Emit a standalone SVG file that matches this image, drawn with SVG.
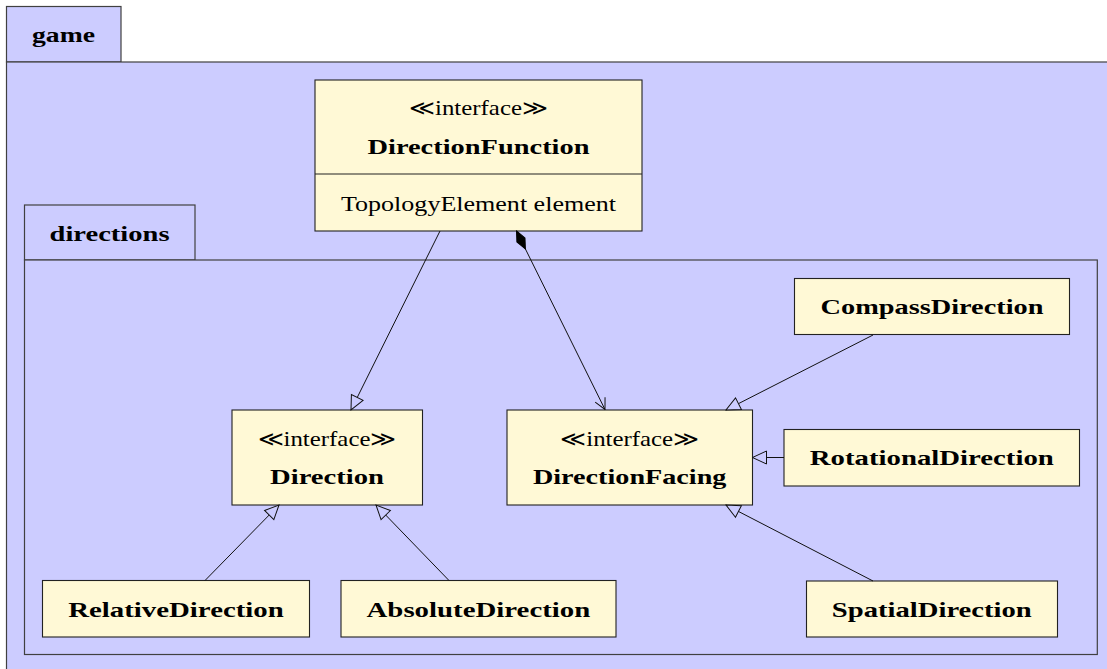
<svg xmlns="http://www.w3.org/2000/svg" width="1107" height="669" viewBox="0 0 1107 669">
<style>
.pkg{fill:#ccccff;stroke:#404040;stroke-width:1.2}
.cls{fill:#fff9d6;stroke:#222;stroke-width:1.1}
.t{font-family:"Liberation Serif","DejaVu Serif",serif;fill:#000;text-anchor:middle}
.b{font-weight:bold;font-size:22px}
.r{font-size:21px}
.ln{fill:none;stroke:#111;stroke-width:1}
.gen{marker-end:url(#gen)}
</style>
<defs>
<marker id="gen" markerUnits="userSpaceOnUse" viewBox="-1 -8 17 16" markerWidth="17" markerHeight="16" refX="14" refY="0" orient="auto">
<path d="M0,-6.5 L14,0 L0,6.5 Z" fill="#ccccff" stroke="#111" stroke-width="1"/>
</marker>
<marker id="open" markerUnits="userSpaceOnUse" viewBox="-1 -7 13 14" markerWidth="13" markerHeight="14" refX="11" refY="0" orient="auto">
<path d="M0,-5.5 L11,0 L0,5.5" fill="none" stroke="#111" stroke-width="1"/>
</marker>
<marker id="diamond" markerUnits="userSpaceOnUse" viewBox="-1 -6 22 12" markerWidth="22" markerHeight="12" refX="0" refY="0" orient="auto">
<path d="M0,0 L10,-4.5 L20,0 L10,4.5 Z" fill="#000" stroke="#000" stroke-width="1"/>
</marker>
</defs>

<g id="pkg-game">
<rect class="pkg" x="6.5" y="6.5" width="114.5" height="55.5"/>
<rect class="pkg" x="6.5" y="62" width="1110" height="620"/>
<text class="t b" x="63.5" y="42" textLength="63" lengthAdjust="spacingAndGlyphs">game</text>
</g>

<g id="pkg-directions">
<rect class="pkg" x="24.5" y="205" width="170.5" height="55"/>
<rect class="pkg" x="24.5" y="260" width="1072.8" height="394.5"/>
<text class="t b" x="109.5" y="241" textLength="120" lengthAdjust="spacingAndGlyphs">directions</text>
</g>

<g id="DirectionFunction">
<rect class="cls" x="315" y="80" width="327" height="151"/>
<line x1="315" y1="174" x2="642" y2="174" stroke="#222" stroke-width="1.1"/>
<text class="t r" x="478.5" y="115" textLength="139" lengthAdjust="spacingAndGlyphs">≪interface≫</text>
<text class="t b" x="478.5" y="154" textLength="222" lengthAdjust="spacingAndGlyphs">DirectionFunction</text>
<text class="t r" x="478.5" y="211" textLength="275" lengthAdjust="spacingAndGlyphs">TopologyElement element</text>
</g>

<g id="Direction">
<rect class="cls" x="232" y="410" width="190.5" height="95"/>
<text class="t r" x="327" y="446" textLength="139" lengthAdjust="spacingAndGlyphs">≪interface≫</text>
<text class="t b" x="327" y="484" textLength="114" lengthAdjust="spacingAndGlyphs">Direction</text>
</g>

<g id="DirectionFacing">
<rect class="cls" x="507" y="410" width="245.5" height="95"/>
<text class="t r" x="629.7" y="446" textLength="139" lengthAdjust="spacingAndGlyphs">≪interface≫</text>
<text class="t b" x="629.7" y="484" textLength="193.5" lengthAdjust="spacingAndGlyphs">DirectionFacing</text>
</g>

<g id="CompassDirection">
<rect class="cls" x="794.5" y="278.5" width="275" height="56"/>
<text class="t b" x="932" y="313.5" textLength="223" lengthAdjust="spacingAndGlyphs">CompassDirection</text>
</g>

<g id="RotationalDirection">
<rect class="cls" x="784" y="429.5" width="295.5" height="56.5"/>
<text class="t b" x="931.8" y="464.5" textLength="244" lengthAdjust="spacingAndGlyphs">RotationalDirection</text>
</g>

<g id="SpatialDirection">
<rect class="cls" x="806.5" y="581" width="251" height="56"/>
<text class="t b" x="931.8" y="616.5" textLength="200" lengthAdjust="spacingAndGlyphs">SpatialDirection</text>
</g>

<g id="RelativeDirection">
<rect class="cls" x="42.5" y="580.5" width="267" height="56.5"/>
<text class="t b" x="176" y="616.5" textLength="215.5" lengthAdjust="spacingAndGlyphs">RelativeDirection</text>
</g>

<g id="AbsoluteDirection">
<rect class="cls" x="341" y="580.5" width="275" height="56.5"/>
<text class="t b" x="478.4" y="616.5" textLength="223.7" lengthAdjust="spacingAndGlyphs">AbsoluteDirection</text>
</g>

<g id="connectors">
<path class="ln gen" d="M440,231 L351,410"/>
<path class="ln" d="M516.5,231 L605,409.5" marker-start="url(#diamond)" marker-end="url(#open)"/>
<path class="ln gen" d="M873,335 L726,410"/>
<path class="ln gen" d="M784,457.5 L752.5,457.5"/>
<path class="ln gen" d="M873,581 L726,505"/>
<path class="ln gen" d="M205,580.5 L279,505"/>
<path class="ln gen" d="M449,580.5 L376,505"/>
</g>
</svg>
